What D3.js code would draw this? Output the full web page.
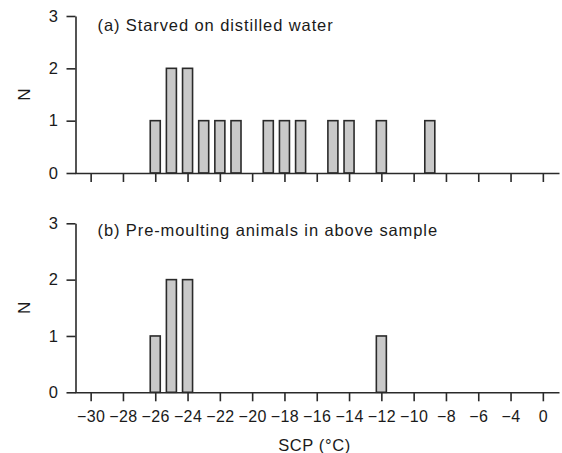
<!DOCTYPE html>
<html>
<head>
<meta charset="utf-8">
<script src="https://cdn.jsdelivr.net/npm/d3@7"></script>
<style>
  html, body { margin: 0; padding: 0; background: #fff; }
  svg { display: block; }
  text { font-family: "Liberation Sans", Arial, Helvetica, sans-serif; fill: #1a1a1a; }
</style>
</head>
<body>
<svg id="chart" width="562" height="453"></svg>
<script>
// ---- data ----
const scpA = [-26, -25, -24, -23, -22, -21, -19, -18, -17, -15, -14, -12, -9];
const countA = [1, 2, 2, 1, 1, 1, 1, 1, 1, 1, 1, 1, 1];
const scpB = [-26, -25, -24, -12];
const countB = [1, 2, 2, 1];
const xTickValues = [-30, -28, -26, -24, -22, -20, -18, -16, -14, -12, -10, -8, -6, -4, -2];
const xTickLabels = ["\u221230", "\u221228", "\u221226", "\u221224", "\u221222", "\u221220", "\u221218", "\u221216", "\u221214", "\u221212", "\u221210", "\u22128", "\u22126", "\u22124", "0"];
const yTickValues = [0, 1, 2, 3];
const titleA = "(a) Starved on distilled water";
const titleB = "(b) Pre-moulting animals in above sample";
const xLabel = "SCP (\u00b0C)";
const yLabel = "N";

// ---- drawing ----
const svg = d3.select("#chart");
const ink = "#2a2a2a";

const x = d3.scaleLinear().domain([-31, -1]).range([74.5, 559]);
const barW = (x(-30) - x(-31)) * 0.62;

const panels = [
  { scp: scpA, count: countA, title: titleA, y0: 173, y3: 16, labels: false, titleY: 31 },
  { scp: scpB, count: countB, title: titleB, y0: 392.3, y3: 223.3, labels: true, titleY: 236 }
];

panels.forEach(p => {
  const y = d3.scaleLinear().domain([0, 3]).range([p.y0, p.y3]);
  const g = svg.append("g");

  // bars
  g.selectAll("rect").data(p.scp.map((s, i) => ({ s, c: p.count[i] })))
    .enter().append("rect")
    .attr("x", d => x(d.s) - barW / 2)
    .attr("y", d => y(d.c))
    .attr("width", barW)
    .attr("height", d => y(0) - y(d.c))
    .attr("fill", "#c9c9c9")
    .attr("stroke", ink)
    .attr("stroke-width", 1.6);

  // x axis
  const xAxis = d3.axisBottom(x)
    .tickValues(xTickValues)
    .tickSize(9)
    .tickSizeOuter(0)
    .tickPadding(9)
    .tickFormat((d, i) => p.labels ? xTickLabels[i] : "");
  const gx = g.append("g").attr("transform", `translate(0,${p.y0})`).call(xAxis);
  gx.select(".domain").attr("stroke", ink).attr("stroke-width", 1.6);
  gx.selectAll(".tick line").attr("stroke", ink).attr("stroke-width", 1.6);
  gx.selectAll(".tick text")
    .attr("font-size", 16).attr("fill", "#1a1a1a")
    .attr("letter-spacing", "0.4px");

  // y axis
  const yAxis = d3.axisLeft(y)
    .tickValues(yTickValues)
    .tickSize(9)
    .tickSizeOuter(0)
    .tickPadding(8.5)
    .tickFormat(d3.format("d"));
  const gy = g.append("g").attr("transform", `translate(75.5,0)`).call(yAxis);
  gy.select(".domain").attr("stroke", ink).attr("stroke-width", 1.6);
  gy.selectAll(".tick line").attr("stroke", ink).attr("stroke-width", 1.6);
  gy.selectAll(".tick text")
    .attr("font-size", 16.5).attr("fill", "#1a1a1a");

  // title
  g.append("text")
    .attr("x", 97.5).attr("y", p.titleY)
    .attr("font-size", 16.5)
    .attr("letter-spacing", "0.9px")
    .text(p.title);

  // y label
  g.append("text")
    .attr("transform", `translate(29.5,${(p.y0 + p.y3) / 2}) rotate(-90)`)
    .attr("text-anchor", "middle")
    .attr("font-size", 17)
    .text(yLabel);
});

svg.append("text")
  .attr("x", 314.5).attr("y", 451)
  .attr("text-anchor", "middle")
  .attr("font-size", 16.5)
  .attr("letter-spacing", "0.6px")
  .text(xLabel);
</script>
</body>
</html>
